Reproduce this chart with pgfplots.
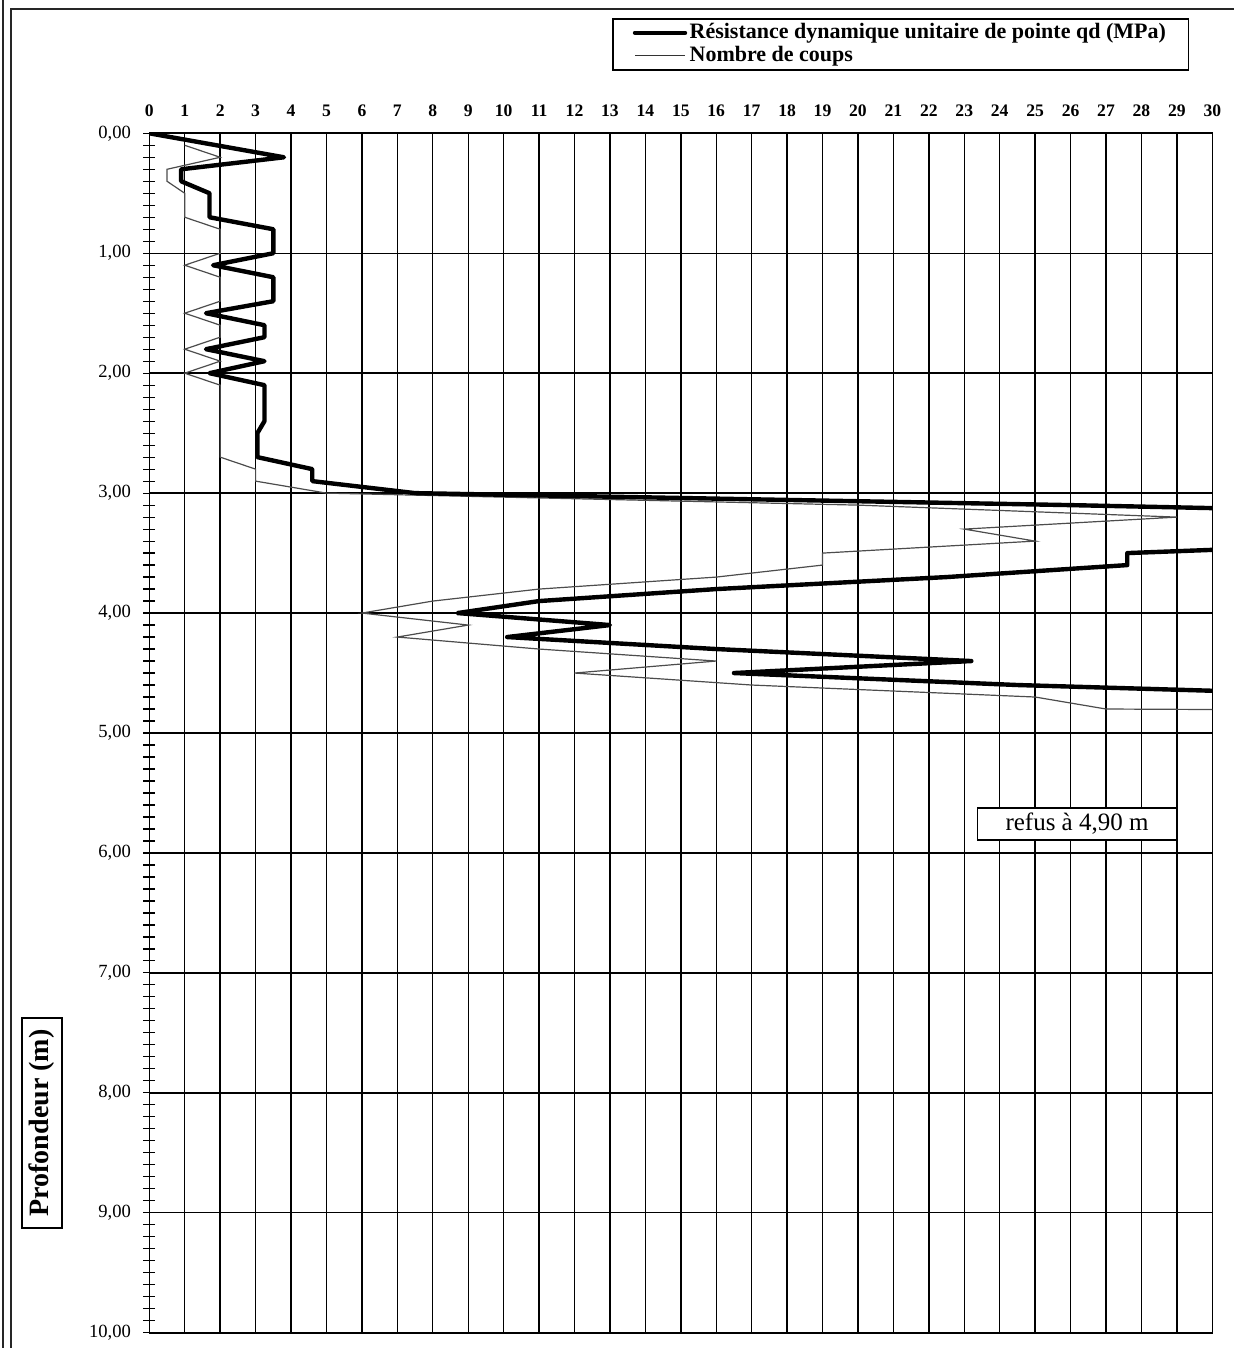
\documentclass[border=0pt]{standalone}
\usepackage{pgfplots}
\pgfplotsset{compat=1.18}
\usepackage{pgfplotstable}
\usepackage{fontspec}
\setmainfont{Liberation Serif}

\pgfplotstableread{
d qd nc
0.0 0 nan
0.1 1.9 1
0.2 3.8 2
0.3 0.9 0.5
0.4 0.9 0.5
0.5 1.7 1
0.6 1.7 1
0.7 1.7 1
0.8 3.5 2
0.9 3.5 2
1.0 3.5 2
1.1 1.8 1
1.2 3.5 2
1.3 3.5 2
1.4 3.5 2
1.5 1.6 1
1.6 3.25 2
1.7 3.25 2
1.8 1.6 1
1.9 3.25 2
2.0 1.7 1
2.1 3.25 2
2.2 3.25 2
2.3 3.25 2
2.4 3.25 2
2.5 3.05 2
2.6 3.05 2
2.7 3.05 2
2.8 4.6 3
2.9 4.6 3
3.0 7.5 5
3.1 26 20
3.2 42 29
3.3 33.5 23
3.4 36.5 25
3.5 27.6 19
3.6 27.6 19
3.7 22.5 16
3.8 16 11
3.9 11 8
4.0 8.7 6
4.1 13 9
4.2 10.1 7
4.3 16 11
4.4 23.2 16
4.5 16.5 12
4.6 24.5 17
4.7 36 25
4.8 39 27
4.9 145 100
}\data

\begin{document}
\begin{tikzpicture}
\begin{axis}[
  at={(74.65pt,7.65pt)}, anchor=south west,
  scale only axis, width=531.5pt, height=599.7pt,
  xmin=0, xmax=30, ymin=0, ymax=10, y dir=reverse,
  xtick={0,1,...,30}, ytick={0,1,...,10}, minor y tick num=9,
  xticklabel pos=top, ytick pos=left,
  xtick style={draw=none},
  ytick style={black, line width=0.6pt},
  tick align=center, major tick length=6pt, minor tick length=6pt,
  grid=major, major grid style={black, line width=0.7pt},
  axis line style={black, line width=0.8pt},
  /pgf/number format/assume math mode=true,
  xticklabel style={font=\bfseries\fontsize{8.8}{9}\selectfont, anchor=base, inner sep=0pt, yshift=5.3pt},
  yticklabel style={font=\fontsize{9.3}{10}\selectfont, anchor=east, inner sep=0pt, xshift=-6pt,
     /pgf/number format/.cd, fixed, fixed zerofill, precision=2, use comma},
  legend style={at={(0.4353,1.0961)}, anchor=north west, draw=black, line width=0.8pt,
     inner xsep=10pt, inner ysep=1.2pt, row sep=0pt,
     font=\bfseries\fontsize{11}{12}\selectfont, cells={anchor=west},
     nodes={inner sep=1.2pt}},
  legend image code/.code={\draw[#1] (0pt,0pt) -- (25pt,0pt);},
  clip=true,
]
\addlegendimage{black, line width=2.2pt, line cap=round}
\addlegendentry{Résistance dynamique unitaire de pointe qd (MPa)}
\addlegendimage{black!80, line width=0.6pt}
\addlegendentry{Nombre de coups}
\addplot[black!70, line width=0.6pt, forget plot] table[x=nc, y=d] {\data};
\addplot[black, line width=2.2pt, line join=round, forget plot] table[x=qd, y=d] {\data};
\end{axis}
\draw[black!85, line width=0.8pt] (5.5pt,-10pt) -- (5.5pt,669.5pt) -- (630pt,669.5pt);
\draw[black!85, line width=0.6pt] (1.5pt,-10pt) -- (1.5pt,690pt);
\node[draw=black, line width=0.8pt, rotate=90, font=\bfseries\fontsize{14}{16}\selectfont,
      minimum width=105pt, minimum height=20pt, inner sep=0pt] at (21pt,112.5pt) {Profondeur (m)};
\node[draw=black, line width=0.6pt, font=\fontsize{12.5}{14}\selectfont,
      minimum width=99.5pt, minimum height=16pt, inner sep=0pt, fill=white] at (538.5pt,262pt) {refus à 4,90 m};
\pgfresetboundingbox
\path[use as bounding box] (0,0) rectangle (616.5pt,674pt);
\end{tikzpicture}
\end{document}
